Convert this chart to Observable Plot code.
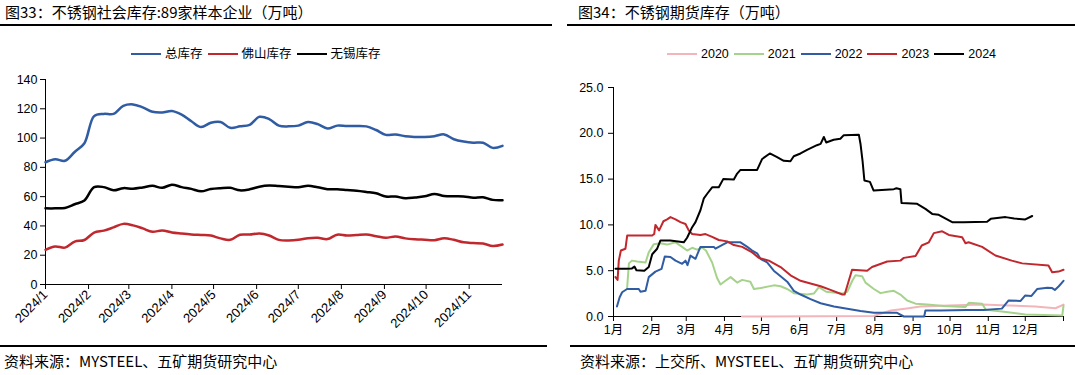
<!DOCTYPE html>
<html><head><meta charset="utf-8">
<script src="https://cdn.jsdelivr.net/npm/d3@7"></script>
<script src="https://cdn.jsdelivr.net/npm/@observablehq/plot@0.6"></script>
<style>
body{margin:0;width:1075px;height:375px;background:#fff;overflow:hidden;position:relative;font-family:"Liberation Sans","Noto Sans CJK SC",sans-serif;color:#000}
.abs{position:absolute}
.title{font-family:"Noto Sans CJK SC",sans-serif;font-size:15px;line-height:18px;white-space:nowrap}
.rule{height:2px;background:#000}
.src{font-family:"Noto Sans CJK SC",sans-serif;font-size:15px;line-height:18px;white-space:nowrap}
.legend{display:flex;align-items:center;font-size:12.5px;line-height:16px;white-space:nowrap}
.legend .sw{width:30px;height:2.5px;margin-right:4px}
.legend .lab{margin-right:5px}
</style></head><body>
<div class="abs title" style="left:5px;top:3px">图33：不锈钢社会库存:89家样本企业（万吨）</div>
<div class="abs rule" style="left:0;top:24px;width:552px"></div>
<div class="abs title" style="left:578px;top:3px">图34：不锈钢期货库存（万吨）</div>
<div class="abs rule" style="left:567px;top:24px;width:508px"></div>
<div id="leg1" class="abs legend" style="left:131px;top:46px"></div>
<div id="leg2" class="abs legend" style="left:667px;top:46px"></div>
<div id="p1" class="abs" style="left:0;top:30px"></div>
<div id="p2" class="abs" style="left:568px;top:30px"></div>
<div class="abs rule" style="left:0;top:345px;width:547px"></div>
<div class="abs rule" style="left:570px;top:345px;width:505px"></div>
<div class="abs src" style="left:4px;top:352px">资料来源：MYSTEEL、五矿期货研究中心</div>
<div class="abs src" style="left:580px;top:352px">资料来源：上交所、MYSTEEL、五矿期货研究中心</div>
<script>
// ---------- Left chart data (weekly, 万吨) ----------
const leftDates = ["2024-01-01","2024-01-08","2024-01-15","2024-01-22","2024-01-29",
  "2024-02-05","2024-02-12","2024-02-19","2024-02-26",
  "2024-03-04","2024-03-11","2024-03-18","2024-03-25",
  "2024-04-01","2024-04-08","2024-04-15","2024-04-22","2024-04-29",
  "2024-05-06","2024-05-13","2024-05-20","2024-05-27",
  "2024-06-03","2024-06-10","2024-06-17","2024-06-24",
  "2024-07-01","2024-07-08","2024-07-15","2024-07-22","2024-07-29",
  "2024-08-05","2024-08-12","2024-08-19","2024-08-26",
  "2024-09-02","2024-09-09","2024-09-16","2024-09-23","2024-09-30",
  "2024-10-07","2024-10-14","2024-10-21","2024-10-28",
  "2024-11-04","2024-11-11","2024-11-18","2024-11-25"];
const totalStock = [83.5,85.5,84.5,90.5,96.5,115,116.5,116.5,122,123,121,118,117.5,118.5,116,111.5,107.5,110.5,111,107,108,109,114.5,113,108.5,108,108.5,111,109.5,106.5,108.5,108.2,108.3,108,105.5,102.2,102.5,101.2,100.8,100.8,101.3,102.5,99.2,97.6,96.8,96.8,93.3,94.7];
const foshanStock = [23.7,26,25.2,29.3,30.4,35.5,36.8,39,41.4,40.4,38.3,36,36.9,35.5,34.8,34.2,33.8,33.4,31.5,30.5,34,34.1,34.9,33.5,30.5,30.1,30.5,31.6,31.9,31,34,33.4,33.8,34.2,33,31.9,32.8,31.5,30.9,30.6,30.3,31.6,30.5,28.8,28.3,28,26.3,27.3];
const wuxiStock = [52,52,52.3,54.8,57.4,66.5,66.5,64.3,65.8,65.4,66.3,67.4,66,68.2,66.5,65.3,63.6,65.2,65.8,66,64.3,65,66.8,67.6,67.2,66.8,66.4,67.5,66.4,65.1,65,64.5,64,63.2,62.3,60.1,60.1,58.9,59.4,60.2,61.8,60.4,60.2,60.1,59.3,59.6,57.8,57.6];
const leftNames = ["总库存","佛山库存","无锡库存"];
const leftColors = ["#2f5ca3","#c0282e","#000000"];
const leftYTicks = [0,20,40,60,80,100,120,140];
const leftXTicks = ["2024-01-01","2024-02-01","2024-03-01","2024-04-01","2024-05-01","2024-06-01","2024-07-01","2024-08-01","2024-09-01","2024-10-01","2024-11-01"];
const leftXLabels = ["2024/1","2024/2","2024/3","2024/4","2024/5","2024/6","2024/7","2024/8","2024/9","2024/10","2024/11"];

// ---------- Right chart data ([day of year, 万吨]) ----------
const s2020 = [[104.2,0],[211,0.05],[225,0.65],[238,0.88],[249,1.1],[272,1.2],[299,1.3],[320.5,1.2],[342,1.1],[358.5,0.9],[365,1.3]];
const s2021 = [[11,3.0],[12.5,5.8],[15,6.1],[19.2,6.0],[26,5.9],[28.6,7.0],[32.7,7.9],[38,8.0],[43.5,7.85],[50.3,8.1],[55.7,7.6],[59.7,7.2],[63.8,7.5],[67.8,7.3],[71.9,7.5],[75,7.2],[80,5.9],[84,4.2],[86.8,3.5],[90.8,3.9],[95,4.3],[100.3,3.7],[104.4,4.0],[111,3.8],[113.9,3.0],[119.3,3.1],[130.1,3.4],[135.5,3.3],[140.9,3.0],[146.3,2.55],[157.1,2.4],[162.5,2.5],[166.6,3.2],[172.5,2.7],[185.6,2.5],[189.6,2.7],[193.7,3.9],[196.3,4.5],[201.7,4.4],[204.4,3.7],[211.2,3.0],[216.6,2.55],[222,2.7],[227.4,2.8],[232.7,2.4],[238.2,1.75],[245,1.4],[254.4,1.3],[268,1.15],[285.5,1.05],[288.2,1.5],[299,1.4],[302,0.73],[315,0.55],[334,0.22],[364,0.1],[365,1.2]];
const s2022 = [[2.8,1.1],[5,2.1],[7,2.65],[11,3.0],[20.5,3.0],[21.9,2.7],[26,2.8],[28.6,4.3],[34,4.9],[39,5.2],[41.6,6.55],[46.2,6.5],[50.3,6.1],[55.7,5.75],[58.4,6.1],[60,5.6],[62.4,6.65],[66.5,6.3],[70.5,7.6],[81.4,7.6],[82.7,7.4],[89.5,7.9],[92.2,8.1],[103,8.1],[108.5,7.6],[112.5,7.2],[116.5,6.9],[119.2,6.3],[124.6,5.9],[130,5.0],[135.5,4.4],[140.9,3.8],[146.3,2.8],[151.7,2.4],[159.8,1.9],[168,1.45],[178.8,1.1],[189.6,0.84],[200.4,0.6],[211.2,0.4],[230,0.4],[235.5,0],[252,0],[253,0.65],[265.3,0.65],[286.9,0.7],[300.4,0.7],[315,0.86],[320.5,1.75],[330.2,1.7],[334,2.3],[339,2.25],[343.6,3.0],[351.8,3.15],[355.8,3.1],[358,2.9],[361.2,3.3],[365,3.9]];
const s2023 = [[1.6,4.3],[3.3,4.0],[4.3,6.1],[6,7.2],[9.7,7.4],[11.1,8.84],[31.4,8.84],[33,9.0],[34,10.0],[37,9.4],[40.5,10.4],[43.5,10.6],[46.2,10.85],[50.3,10.6],[54.3,10.3],[58.4,10.1],[61,9.4],[63.8,9.0],[70.5,8.9],[74.6,9.0],[80,8.7],[85.4,8.35],[92.2,8.2],[97.6,7.8],[104.4,7.6],[112.5,7.0],[117.9,6.4],[123.3,6.2],[126,6.1],[135.5,5.4],[143.6,4.5],[151.7,3.9],[159.8,3.6],[168,3.3],[176,2.9],[185.6,2.4],[187.5,2.4],[193.5,5.1],[205.7,5.0],[209.7,5.4],[222,6.0],[232.7,6.1],[235.5,6.4],[245,6.6],[250,7.75],[255.8,8.1],[259.8,9.1],[266.6,9.3],[272,8.9],[282.8,8.66],[285.5,8.0],[288,8.1],[299,7.6],[309.8,6.66],[323,6.1],[331.5,5.8],[352.8,5.57],[355.8,4.84],[361,4.9],[365,5.1]];
const s2024 = [[1.6,5.2],[10,5.2],[15,5.25],[17,5.45],[18.6,5.05],[25,5.0],[28.6,5.4],[31.4,6.8],[35.4,7.4],[38.1,8.3],[46,8.3],[57,8.1],[59.7,8.6],[63.8,9.75],[66.5,10.3],[70.5,11.6],[73.3,12.9],[76,13.4],[80,14.1],[85.4,14.1],[89,15.0],[97.6,14.95],[100.3,15.6],[103,16.0],[116.5,16.0],[120.6,17.2],[126.8,17.8],[132.7,17.4],[138.1,17.0],[143.5,16.95],[146.2,17.5],[151.7,17.8],[157,18.2],[165,18.7],[168,18.85],[170.6,19.6],[172.5,19.0],[178.6,19.3],[184,19.4],[186.8,19.8],[199,19.85],[200.4,18.8],[202,17.0],[203.5,14.85],[208,14.7],[211,13.75],[227.4,13.9],[229.5,14.0],[232.7,13.9],[233.6,12.4],[246.3,12.3],[253,11.75],[258.5,11.2],[263.8,11.1],[274.7,10.3],[284,10.3],[303,10.35],[306,10.66],[318,10.85],[325,10.7],[334,10.6],[339.6,10.97]];
const rightNames = ["2020","2021","2022","2023","2024"];
const rightColors = ["#f2b5bb","#a6d38c","#2f5ca3","#c0282e","#000000"];
const rightYTicks = [0,5,10,15,20,25];
const rightXTicks = [0,31,59,90,120,151,181,212,243,273,304,334,365];
const rightXLabels = ["1月","2月","3月","4月","5月","6月","7月","8月","9月","10月","11月","12月",""];

// ---------- legends ----------
function legend(el, names, colors) {
  names.forEach((n, i) => {
    const sw = document.createElement("div"); sw.className = "sw"; sw.style.background = colors[i];
    const lb = document.createElement("div"); lb.className = "lab"; lb.textContent = n;
    el.appendChild(sw); el.appendChild(lb);
  });
}
legend(document.getElementById("leg1"), leftNames, leftColors);
legend(document.getElementById("leg2"), rightNames, rightColors);

// ---------- left plot ----------
const leftSeries = [totalStock, foshanStock, wuxiStock];
const parse = s => new Date(s + "T00:00:00Z");
const leftTickDates = leftXTicks.map(parse);
const leftLines = leftSeries.map((vals, si) =>
  Plot.lineY(leftDates.map((d, i) => ({date: parse(d), value: vals[i]})),
    {x: "date", y: "value", stroke: leftColors[si], strokeWidth: 2.5, curve: "catmull-rom"}));
const xStart = parse(leftDates[0]), xEnd = parse(leftDates[leftDates.length - 1]);
const p1 = Plot.plot({
  width: 545, height: 315,
  marginLeft: 45, marginRight: 43, marginTop: 49, marginBottom: 61,
  style: {fontFamily: "'Liberation Sans','Noto Sans CJK SC',sans-serif", fontSize: "12.5px", color: "#000", overflow: "visible", background: "transparent"},
  x: {type: "utc", domain: [xStart, xEnd]},
  y: {domain: [0, 140]},
  marks: [
    Plot.axisY({ticks: leftYTicks, tickSize: 5, tickPadding: 3, label: null, stroke: "#000"}),
    Plot.axisX({ticks: leftTickDates, tickSize: 5, tickPadding: 3, tickRotate: -45, label: null, fontSize: 13,
      tickFormat: d => leftXLabels[leftTickDates.findIndex(t => +t === +d)]}),
    Plot.ruleY([0], {stroke: "#000"}),
    Plot.ruleX([xStart], {stroke: "#000"}),
    ...leftLines
  ]
});
document.getElementById("p1").appendChild(p1);

// ---------- right plot ----------
const rightSeries = [s2020, s2021, s2022, s2023, s2024];
const rightLines = rightSeries.map((arr, si) =>
  Plot.line(arr, {x: d => d[0], y: d => d[1], stroke: rightColors[si], strokeWidth: 2, strokeLinejoin: "round"}));
const p2 = Plot.plot({
  width: 507, height: 315,
  marginLeft: 45, marginRight: 12, marginTop: 57, marginBottom: 29,
  style: {fontFamily: "'Liberation Sans','Noto Sans CJK SC',sans-serif", fontSize: "12.5px", color: "#000", overflow: "visible", background: "transparent"},
  x: {domain: [0, 365]},
  y: {domain: [0, 25]},
  marks: [
    Plot.axisY({ticks: rightYTicks, tickSize: 5, tickPadding: 5, label: null, tickFormat: d => d.toFixed(1)}),
    Plot.axisX({ticks: rightXTicks, tickSize: 5, tickPadding: 4, label: null,
      tickFormat: d => rightXLabels[rightXTicks.indexOf(d)]}),
    Plot.ruleY([0], {stroke: "#000"}),
    Plot.ruleX([0], {stroke: "#000"}),
    ...rightLines
  ]
});
document.getElementById("p2").appendChild(p2);
</script>
</body></html>
